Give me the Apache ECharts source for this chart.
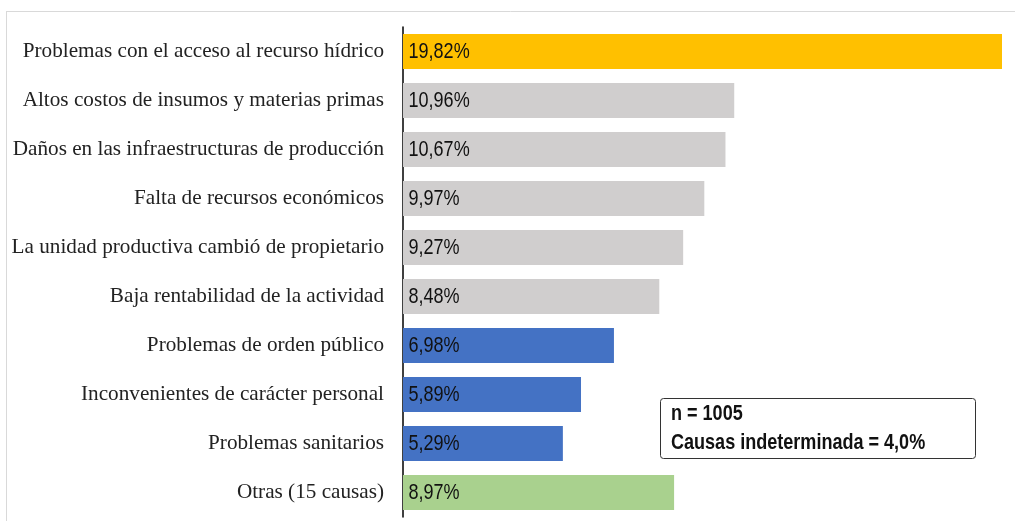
<!DOCTYPE html>
<html>
<head>
<meta charset="utf-8">
<script src="https://cdn.jsdelivr.net/npm/echarts@6/dist/echarts.min.js"></script>
<style>
html,body{margin:0;padding:0;background:#fff;}
#chart{width:1015px;height:521px;}
</style>
</head>
<body>
<div id="chart"></div>
<script>
const categories = [
  'Problemas con el acceso al recurso hídrico',
  'Altos costos de insumos y materias primas',
  'Daños en las infraestructuras de producción',
  'Falta de recursos económicos',
  'La unidad productiva cambió de propietario',
  'Baja rentabilidad de la actividad',
  'Problemas de orden público',
  'Inconvenientes de carácter personal',
  'Problemas sanitarios',
  'Otras (15 causas)'
];
const values = [19.82, 10.96, 10.67, 9.97, 9.27, 8.48, 6.98, 5.89, 5.29, 8.97];
const barColors = ['#FFC000', '#D0CECE', '#D0CECE', '#D0CECE', '#D0CECE', '#D0CECE', '#4472C4', '#4472C4', '#4472C4', '#A9D18E'];
const noteLines = ['n = 1005', 'Causas indeterminada = 4,0%'];

const chart = echarts.init(document.getElementById('chart'), null, {renderer: 'canvas'});
const sans = '"Liberation Sans", Arial, sans-serif';
const fmt = v => v.toFixed(2).replace('.', ',') + '%';

chart.setOption({
  animation: false,
  backgroundColor: '#ffffff',
  grid: {left: 403, right: 13, top: 27, height: 490, containLabel: false},
  xAxis: {
    type: 'value', min: 0, max: 19.82, show: false, splitLine: {show: false}
  },
  yAxis: {
    type: 'category', data: categories, inverse: true,
    axisTick: {show: false},
    axisLine: {show: true, lineStyle: {color: '#000', width: 1.5}},
    axisLabel: {
      margin: 19, color: '#222',
      fontFamily: '"Liberation Serif", "Times New Roman", serif', fontSize: 21.2
    }
  },
  series: [{
    type: 'bar',
    data: values.map((v, i) => ({value: v, itemStyle: {color: barColors[i]}})),
    barWidth: 35,
    z: 2
  }, {
    type: 'custom',
    data: values.map((v, i) => [v, i]),
    z: 3,
    renderItem: function (params, api) {
      const idx = api.value(1);
      const pt = api.coord([0, idx]);
      return {
        type: 'text',
        x: pt[0] + 5.5, y: pt[1] + 0.5,
        scaleX: 0.82,
        style: {
          text: fmt(api.value(0)),
          font: '22px ' + sans, fill: '#111',
          textAlign: 'left', textVerticalAlign: 'middle'
        }
      };
    }
  }],
  graphic: [
    {type: 'line', shape: {x1: 6, y1: 11.5, x2: 1015, y2: 11.5}, style: {stroke: '#d9d9d9', lineWidth: 1}},
    {type: 'line', shape: {x1: 6.5, y1: 11, x2: 6.5, y2: 521}, style: {stroke: '#d9d9d9', lineWidth: 1}},
    {type: 'rect', shape: {x: 660.5, y: 398.5, width: 315, height: 60, r: 3},
      style: {fill: '#fff', stroke: '#333', lineWidth: 1}},
    {type: 'text', x: 671, y: 414, scaleX: 0.82, style: {text: noteLines[0], font: 'bold 22px ' + sans, fill: '#111', textVerticalAlign: 'middle'}},
    {type: 'text', x: 671, y: 443, scaleX: 0.82, style: {text: noteLines[1], font: 'bold 22px ' + sans, fill: '#111', textVerticalAlign: 'middle'}}
  ]
});
</script>
</body>
</html>
